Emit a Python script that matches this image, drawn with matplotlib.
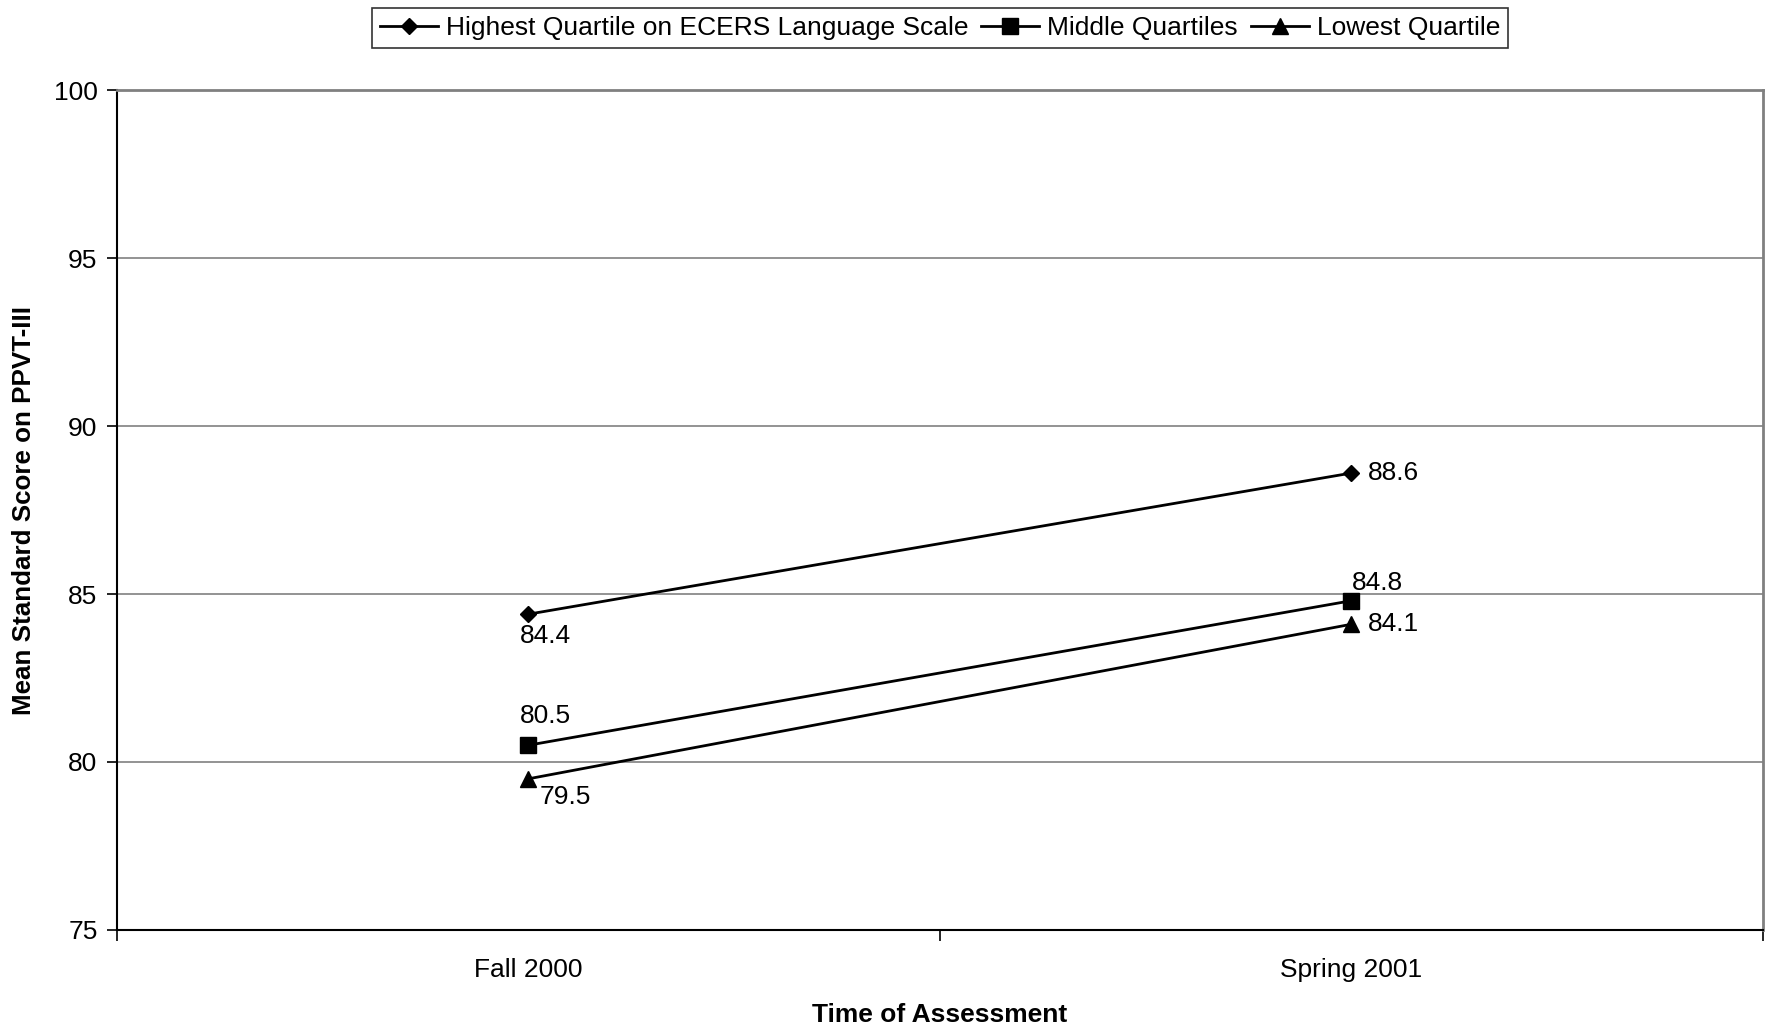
"""
Mean PPVT-III standard scores by ECERS language scale quartile.
"""

import matplotlib.pyplot as plt
from matplotlib.ticker import FixedLocator, NullFormatter

# data
periods = ["Fall 2000", "Spring 2001"]
highest = [84.4, 88.6]
middle = [80.5, 84.8]
lowest = [79.5, 84.1]
series_names = [
    "Highest Quartile on ECERS Language Scale",
    "Middle Quartiles",
    "Lowest Quartile",
]

plt.rcParams["font.family"] = ["Liberation Sans", "DejaVu Sans"]


def main():
    fig = plt.figure(figsize=(17.67, 10.30), dpi=100)
    ax = fig.add_axes([0.0662, 0.0971, 0.9315, 0.8155])

    x = list(range(len(periods)))
    styles = [("D", 8.4), ("s", 11), ("^", 11.5)]
    all_series = [highest, middle, lowest]
    lines = []
    for vals, name, (mk, ms) in zip(all_series, series_names, styles):
        (ln,) = ax.plot(x, vals, color="black", lw=2, marker=mk, ms=ms,
                        label=name, zorder=3)
        lines.append(ln)

    # data labels: (dx, dy) in points, horizontal and vertical alignment
    label_offsets = [
        [(-6, -16, "left", "center"), (12, 0, "left", "center")],
        [(-6, 21, "left", "center"), (0, 13, "left", "center")],
        [(8, -13, "left", "center"), (12, 0, "left", "center")],
    ]
    for vals, offs in zip(all_series, label_offsets):
        for xi, v, (dx, dy, ha, va) in zip(x, vals, offs):
            ax.annotate(f"{v:.1f}", (xi, v), xytext=(dx, dy),
                        textcoords="offset points", ha=ha, va=va, fontsize=19)

    ax.set_xlim(-0.5, 1.5)
    ax.set_ylim(75, 100)
    ax.set_yticks([75, 80, 85, 90, 95, 100])
    ax.yaxis.grid(True, color="#808080", lw=1.2)
    ax.set_axisbelow(True)

    # category labels between tick marks, like a spreadsheet chart
    ax.xaxis.set_major_locator(FixedLocator([-0.5, 0.5, 1.5]))
    ax.xaxis.set_major_formatter(NullFormatter())
    ax.xaxis.set_minor_locator(FixedLocator(x))
    ax.set_xticklabels(periods, minor=True)
    ax.tick_params(axis="x", which="minor", length=0, pad=20, labelsize=19)
    ax.tick_params(axis="x", which="major", length=8, width=1.2, direction="out")
    ax.tick_params(axis="y", length=7, width=1.2, pad=7, labelsize=19)

    for side in ["top", "right"]:
        ax.spines[side].set_color("#808080")
        ax.spines[side].set_linewidth(2)
    for side in ["left", "bottom"]:
        ax.spines[side].set_color("black")
        ax.spines[side].set_linewidth(1.5)

    ax.set_ylabel("Mean Standard Score on PPVT-III", fontsize=18.7,
                  fontweight="bold", labelpad=13)
    ax.set_xlabel("Time of Assessment", fontsize=19, fontweight="bold",
                  va="center")
    ax.xaxis.set_label_coords(0.5, -0.101)

    leg = fig.legend(handles=lines, loc="upper center",
                     bbox_to_anchor=(0.532, 1.005), ncol=3, fontsize=19,
                     frameon=True, fancybox=False, edgecolor="black",
                     handlelength=2.2, handletextpad=0.3, columnspacing=0.5,
                     borderpad=0.3)
    leg.get_frame().set_linewidth(1.2)

    fig.savefig("out.png", dpi=100)
    plt.close(fig)


if __name__ == "__main__":
    main()
